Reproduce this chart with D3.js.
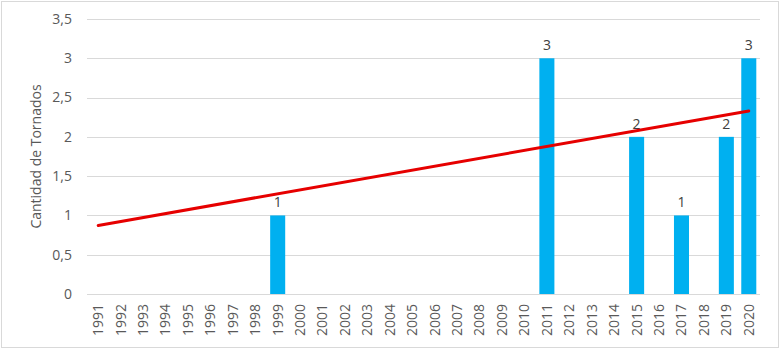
<!DOCTYPE html>
<html>
<head>
<meta charset="utf-8">
<script src="https://cdn.jsdelivr.net/npm/d3@7"></script>
<style>
  body { margin: 0; background: #fff; }
  svg { display: block; font-family: "Open Sans", "Noto Sans", sans-serif; }
</style>
</head>
<body>
<div class="chart"></div>
<script>
// data
var years = ["1991","1992","1993","1994","1995","1996","1997","1998","1999","2000",
             "2001","2002","2003","2004","2005","2006","2007","2008","2009","2010",
             "2011","2012","2013","2014","2015","2016","2017","2018","2019","2020"];
var tornados = [0,0,0,0,0,0,0,0,1,0, 0,0,0,0,0,0,0,0,0,0, 3,0,0,0,2,0,1,0,2,3];
var yTicks = [0, 0.5, 1, 1.5, 2, 2.5, 3, 3.5];
var trendYears = ["1991", "2020"];
var trendValues = [0.873, 2.33];

var width = 782, height = 350;
var margin = {top: 19, right: 22, bottom: 56, left: 87};

var svg = d3.select(".chart").append("svg")
    .attr("width", width)
    .attr("height", height);

// outer chart border
svg.append("rect")
    .attr("x", 1.5).attr("y", 1.5)
    .attr("width", width - 5).attr("height", height - 4)
    .attr("fill", "none")
    .attr("stroke", "#d9d9d9");

var x = d3.scaleBand()
    .domain(years)
    .range([margin.left, width - margin.right])
    .paddingInner(0.33)
    .paddingOuter(0.165);

var y = d3.scaleLinear()
    .domain([0, 3.5])
    .range([height - margin.bottom, margin.top]);

var fmt = function(d) { return String(d).replace(".", ","); };

// gridlines
svg.append("g")
    .selectAll("line")
    .data(yTicks)
    .enter()
    .append("line")
    .attr("x1", margin.left)
    .attr("x2", width - margin.right)
    .attr("y1", function(d) { return Math.round(y(d)) + 0.5; })
    .attr("y2", function(d) { return Math.round(y(d)) + 0.5; })
    .attr("stroke", "#d9d9d9")
    .attr("stroke-width", 1);

// y axis labels
svg.append("g")
    .selectAll("text")
    .data(yTicks)
    .enter()
    .append("text")
    .attr("x", 72)
    .attr("y", function(d) { return y(d); })
    .attr("dy", "0.35em")
    .attr("text-anchor", "end")
    .attr("font-size", 14)
    .attr("fill", "#595959")
    .text(fmt);

// y axis title
svg.append("text")
    .attr("transform", "translate(36," + ((margin.top + height - margin.bottom) / 2) + ") rotate(-90)")
    .attr("text-anchor", "middle")
    .attr("dy", "0.35em")
    .attr("font-size", 14)
    .attr("fill", "#595959")
    .text("Cantidad de Tornados");

// bars with data labels
var bars = svg.append("g");
tornados.forEach(function(v, i) {
    if (v <= 0) return;
    bars.append("rect")
        .attr("x", x(years[i]))
        .attr("y", y(v))
        .attr("width", x.bandwidth())
        .attr("height", y(0) - y(v))
        .attr("fill", "#00b0f0");
    bars.append("text")
        .attr("x", x(years[i]) + x.bandwidth() / 2)
        .attr("y", y(v) - 8)
        .attr("text-anchor", "middle")
        .attr("font-size", 14)
        .attr("fill", "#404040")
        .text(v);
});

// x axis labels (rotated)
svg.append("g")
    .selectAll("text")
    .data(years)
    .enter()
    .append("text")
    .attr("transform", function(d) {
        return "translate(" + (x(d) + x.bandwidth() / 2) + "," + 304 + ") rotate(-90)";
    })
    .attr("dy", "0.35em")
    .attr("text-anchor", "end")
    .attr("font-size", 14)
    .attr("fill", "#595959")
    .text(function(d) { return d; });

// linear trend line
var line = d3.line()
    .x(function(d, i) { return x(trendYears[i]) + x.bandwidth() / 2; })
    .y(function(d) { return y(d); });

svg.append("path")
    .datum(trendValues)
    .attr("d", line)
    .attr("fill", "none")
    .attr("stroke", "#e60000")
    .attr("stroke-width", 3)
    .attr("stroke-linecap", "round");
</script>
</body>
</html>
